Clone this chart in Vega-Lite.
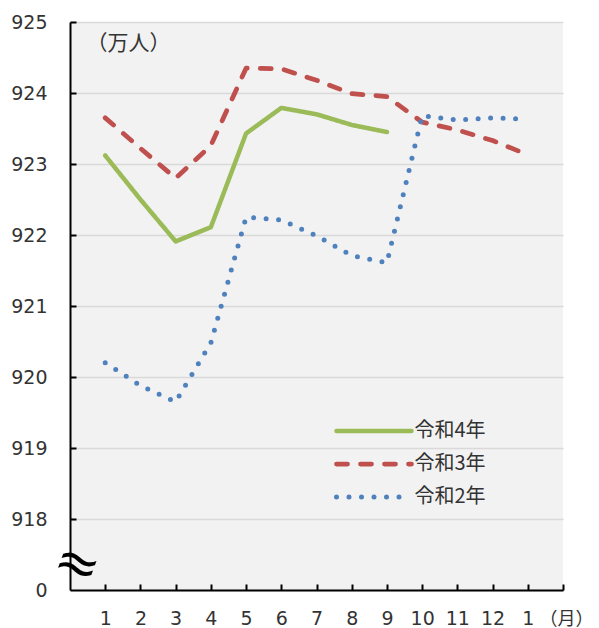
{
  "$schema": "https://vega.github.io/schema/vega-lite/v6.json",
  "autosize": "none",
  "width": 493,
  "height": 568,
  "padding": {"left": 70, "top": 22, "right": 36, "bottom": 38},
  "background": "white",
  "config": {
    "view": {"fill": "#f2f2f2", "stroke": null},
    "font": "DejaVu Sans"
  },
  "resolve": {"axis": {"x": "independent", "y": "independent"}},
  "datasets": {
    "series": [
      {"month": 1, "series": "令和4年", "value": 923.12},
      {"month": 2, "series": "令和4年", "value": 922.5},
      {"month": 3, "series": "令和4年", "value": 921.91},
      {"month": 4, "series": "令和4年", "value": 922.11},
      {"month": 5, "series": "令和4年", "value": 923.43},
      {"month": 6, "series": "令和4年", "value": 923.79},
      {"month": 7, "series": "令和4年", "value": 923.7},
      {"month": 8, "series": "令和4年", "value": 923.55},
      {"month": 9, "series": "令和4年", "value": 923.45},
      {"month": 1, "series": "令和3年", "value": 923.65},
      {"month": 2, "series": "令和3年", "value": 923.22},
      {"month": 3, "series": "令和3年", "value": 922.8},
      {"month": 4, "series": "令和3年", "value": 923.26},
      {"month": 5, "series": "令和3年", "value": 924.35},
      {"month": 6, "series": "令和3年", "value": 924.34},
      {"month": 7, "series": "令和3年", "value": 924.18},
      {"month": 8, "series": "令和3年", "value": 923.99},
      {"month": 9, "series": "令和3年", "value": 923.95},
      {"month": 10, "series": "令和3年", "value": 923.59},
      {"month": 11, "series": "令和3年", "value": 923.48},
      {"month": 12, "series": "令和3年", "value": 923.33},
      {"month": 13, "series": "令和3年", "value": 923.13},
      {"month": 1, "series": "令和2年", "value": 920.2},
      {"month": 2, "series": "令和2年", "value": 919.88},
      {"month": 3, "series": "令和2年", "value": 919.65},
      {"month": 4, "series": "令和2年", "value": 920.48},
      {"month": 5, "series": "令和2年", "value": 922.25},
      {"month": 6, "series": "令和2年", "value": 922.21},
      {"month": 7, "series": "令和2年", "value": 921.99},
      {"month": 8, "series": "令和2年", "value": 921.71},
      {"month": 9, "series": "令和2年", "value": 921.61},
      {"month": 10, "series": "令和2年", "value": 923.68},
      {"month": 11, "series": "令和2年", "value": 923.62},
      {"month": 12, "series": "令和2年", "value": 923.65},
      {"month": 13, "series": "令和2年", "value": 923.63}
    ],
    "brk": [{"month": 0.2, "value": 917.35, "sym": "≈"}]
  },
  "layer": [
    {
      "data": {"name": "series"},
      "mark": {"type": "line", "interpolate": "linear", "strokeCap": "round", "strokeJoin": "round"},
      "encoding": {
        "x": {
          "field": "month", "type": "quantitative",
          "scale": {"domain": [0, 14], "nice": false, "zero": false},
          "axis": {
            "orient": "bottom",
            "values": [1,2,3,4,5,6,7,8,9,10,11,12,13],
            "labelExpr": "datum.value == 13 ? '1' : datum.label",
            "grid": false, "ticks": false,
            "domainColor": "#000000", "domainWidth": 2,
            "labelPadding": 19, "labelFontSize": 19, "labelColor": "#333333",
            "labelFont": "DejaVu Sans", "labelBaseline": "top",
            "title": "（月）", "titleFont": "Noto Sans CJK JP", "titleFontSize": 18,
            "titleFontWeight": "normal", "titleColor": "#333333",
            "titleX": 496, "titleY": 20, "titleAlign": "center", "titleBaseline": "top"
          }
        },
        "y": {
          "field": "value", "type": "quantitative",
          "scale": {"domain": [917, 925], "nice": false, "zero": false},
          "axis": {
            "orient": "left",
            "values": [917,918,919,920,921,922,923,924,925],
            "format": "d",
            "labelExpr": "datum.value == 917 ? '0' : datum.label",
            "grid": true, "gridColor": "#d9d9d9", "gridWidth": 1.5,
            "ticks": false,
            "domainColor": "#000000", "domainWidth": 2,
            "labelPadding": 23, "labelFontSize": 19, "labelColor": "#333333",
            "labelFont": "DejaVu Sans",
            "title": "（万人）", "titleFont": "Noto Sans CJK JP", "titleFontSize": 21,
            "titleFontWeight": "normal", "titleColor": "#333333", "titleAngle": 0,
            "titleX": 58, "titleY": 21, "titleAlign": "center", "titleBaseline": "middle"
          }
        },
        "color": {
          "field": "series", "type": "nominal",
          "scale": {"domain": ["令和4年", "令和3年", "令和2年"], "range": ["#9bbb59", "#c0504d", "#4f81bd"]},
          "legend": {
            "orient": "none", "legendX": 294, "legendY": 399, "title": null,
            "padding": 0, "symbolType": "M-7.5,0L7.5,0", "symbolSize": 100,
            "symbolStrokeWidth": 4.5, "symbolOffset": 0, "labelOffset": 30.5,
            "rowPadding": 13, "labelFont": "Noto Sans CJK JP", "labelFontSize": 20,
            "labelColor": "#333333", "symbolFillColor": "transparent",
            "encode": {"symbols": {"update": {"strokeCap": {"value": "round"}}}}
          }
        },
        "strokeDash": {
          "field": "series", "type": "nominal",
          "scale": {"domain": ["令和4年", "令和3年", "令和2年"], "range": [[1, 0], [11, 13], [0, 12.5]]}
        },
        "strokeWidth": {
          "field": "series", "type": "nominal",
          "scale": {"domain": ["令和4年", "令和3年", "令和2年"], "range": [4.5, 5, 5]},
          "legend": null
        }
      }
    },
    {
      "data": {"name": "brk"},
      "mark": {"type": "text", "fontSize": 54, "angle": 20, "color": "#000000", "font": "DejaVu Sans", "baseline": "middle", "align": "center"},
      "encoding": {
        "x": {
          "field": "month", "type": "quantitative",
          "axis": {
            "orient": "top", "offset": -568,
            "values": [1,2,3,4,5,6,7,8,9,10,11,12,13,14],
            "labels": false, "domain": false, "grid": false, "title": null,
            "ticks": true, "tickSize": 6, "tickWidth": 2, "tickColor": "#000000"
          }
        },
        "y": {
          "field": "value", "type": "quantitative",
          "axis": {
            "orient": "right", "offset": -493,
            "values": [918,919,920,921,922,923,924,925],
            "labels": false, "domain": false, "grid": false, "title": null,
            "ticks": true, "tickSize": 6, "tickWidth": 2, "tickColor": "#000000"
          }
        },
        "text": {"field": "sym"}
      }
    }
  ]
}
